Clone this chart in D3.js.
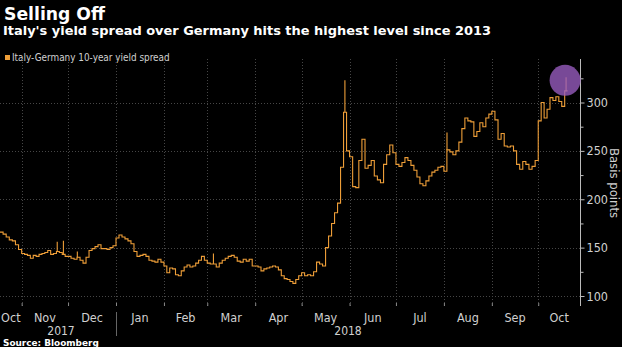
<!DOCTYPE html>
<html>
<head>
<meta charset="utf-8">
<script src="https://cdn.jsdelivr.net/npm/d3@7"></script>
<style>
  html, body { margin: 0; padding: 0; background: #000; }
  svg { display: block; }
</style>
</head>
<body>
<script>
// Italy-Germany 10-year spread, basis points, closes read per month
var periodStarts = ["2017-10-18", "2017-11-01", "2017-12-01", "2018-01-01", "2018-02-01", "2018-03-01",
    "2018-04-01", "2018-05-01", "2018-06-01", "2018-07-01", "2018-08-01", "2018-09-01", "2018-10-01"];
var lastDate = "2018-10-20";

var spreadOct17 = [166, 164, 161, 158, 157, 153, 148];
var spreadNov17 = [144, 143, 142, 139, 142, 141, 143, 144, 145, 147, 143, 144, 146, 145, 143, 141];
var spreadDec17 = [141, 139, 138, 140, 137, 134, 140, 147, 149, 151, 153, 149, 149, 148, 150, 152];
var spreadJan18 = [160, 163, 161, 159, 157, 154, 146, 141, 142, 143, 141, 137, 136, 135, 138, 135];
var spreadFeb18 = [131, 124, 129, 128, 122, 121, 126, 130, 132, 130, 131, 134, 137, 141, 137];
var spreadMar18 = [134, 133, 133, 130, 134, 137, 139, 141, 142, 140, 136, 135, 138, 136, 138, 131];
var spreadApr18 = [131, 130, 126, 128, 129, 130, 131, 130, 127, 121, 118, 117, 115, 113, 117, 121];
var spreadMay18 = [124, 121, 122, 121, 125, 135, 133, 131, 150, 162, 175, 186, 196, 233, 290, 250];
var spreadJun18 = [244, 213, 212, 240, 262, 232, 235, 240, 224, 220, 217, 236, 246, 256, 248];
var spreadJul18 = [236, 234, 238, 243, 240, 235, 230, 223, 216, 214, 219, 224, 228, 230, 233, 234];
var spreadAug18 = [229, 251, 249, 246, 250, 259, 273, 284, 281, 280, 265, 270, 279, 275, 284, 288];
var spreadSep18 = [291, 282, 262, 268, 255, 254, 255, 250, 236, 231, 239, 236, 231, 234, 240];
var spreadOct18 = [281, 300, 284, 293, 305, 302, 306, 301, 296, 312];

// intraday highs on the days with long bars
var spikeDates = ["2017-11-24", "2017-11-28", "2017-12-07", "2018-03-05", "2018-05-29", "2018-08-03", "2018-10-19"];
var spikeHighs = [156, 157, 146, 144, 323, 269, 326];

var yTicks = [100, 150, 200, 250, 300];
var yMinorTicks = [125, 175, 225, 275, 325];

var monthly = [spreadOct17, spreadNov17, spreadDec17, spreadJan18, spreadFeb18, spreadMar18,
    spreadApr18, spreadMay18, spreadJun18, spreadJul18, spreadAug18, spreadSep18, spreadOct18];

var width = 622, height = 347;
var plot_top = 59, plot_bottom = 306, plot_right = 580;
var line_color = "#ee9e38";
var label_color = "#d0d0d0";
var font = "'DejaVu Sans', 'Liberation Sans', sans-serif";
var narrow_font = "'DejaVu Sans Condensed', 'DejaVu Sans', sans-serif";

var parse = d3.utcParse("%Y-%m-%d");

var svg = d3.select("body").append("svg")
    .attr("width", width)
    .attr("height", height)
    .style("background", "#000");

// shrink or grow a text's font size until it is the given width
function fit_width(text_sel, target) {
    var size = parseFloat(text_sel.style("font-size"));
    var w = text_sel.node().getComputedTextLength();
    if (w > 0) text_sel.style("font-size", (size * target / w).toFixed(2) + "px");
    return text_sel;
}

var x = d3.scaleUtc()
    .domain([parse("2017-10-18"), parse("2018-10-28")])
    .range([0, plot_right]);

var y = d3.scaleLinear()
    .domain([100, 300])
    .range([296, 102.5]);

// spread each month's closes evenly over that month
var points = [];
periodStarts.forEach(function (s, i) {
    var t0 = parse(s);
    var t1 = parse(i + 1 < periodStarts.length ? periodStarts[i + 1] : lastDate);
    var vals = monthly[i];
    vals.forEach(function (v, j) {
        points.push({ date: new Date(+t0 + j * (t1 - t0) / vals.length), value: v });
    });
});
points.push({ date: parse(lastDate), value: points[points.length - 1].value });

// Titles
fit_width(svg.append("text")
    .attr("x", 4).attr("y", 20)
    .style("font-family", font).style("font-weight", "bold").style("font-size", "20px")
    .style("fill", "#fff")
    .text("Selling Off"), 101);

fit_width(svg.append("text")
    .attr("x", 3).attr("y", 35)
    .style("font-family", font).style("font-weight", "bold").style("font-size", "13px")
    .style("fill", "#fff")
    .text("Italy's yield spread over Germany hits the highest level since 2013"), 488);

// Legend
svg.append("rect")
    .attr("x", 5).attr("y", 55).attr("width", 5).attr("height", 5)
    .style("fill", line_color);

fit_width(svg.append("text")
    .attr("x", 12).attr("y", 60.5)
    .style("font-family", narrow_font).style("font-size", "9px")
    .style("fill", label_color)
    .text("Italy-Germany 10-year yield spread"), 158);

// Gridlines
var grid = svg.append("g");
var month_starts = d3.utcMonth.range(parse("2017-10-19"), parse("2018-10-28"));

grid.selectAll(".hgrid")
    .data(yTicks)
    .enter().append("line")
    .attr("x1", 0).attr("x2", plot_right)
    .attr("y1", function (d) { return Math.round(y(d)) + 0.5; })
    .attr("y2", function (d) { return Math.round(y(d)) + 0.5; })
    .style("stroke", "#464646").style("stroke-dasharray", "1,2");

grid.selectAll(".vgrid")
    .data(month_starts)
    .enter().append("line")
    .attr("x1", function (d) { return Math.round(x(d)) + 0.5; })
    .attr("x2", function (d) { return Math.round(x(d)) + 0.5; })
    .attr("y1", plot_top).attr("y2", plot_bottom)
    .style("stroke", "#464646").style("stroke-dasharray", "1,2");

// Y axis on the right
var y_axis = svg.append("g")
    .attr("transform", "translate(" + (plot_right + 0.5) + ",0)")
    .call(d3.axisRight(y).tickValues(yTicks).tickSize(4).tickPadding(2));

svg.append("g")
    .attr("transform", "translate(" + (plot_right + 0.5) + ",0)")
    .call(d3.axisRight(y).tickValues(yMinorTicks).tickSize(3).tickFormat(""))
    .call(function (g) { g.select(".domain").remove(); });

y_axis.select(".domain").remove();
y_axis.append("line")
    .attr("x1", 0).attr("x2", 0)
    .attr("y1", plot_top).attr("y2", plot_bottom)
    .style("stroke", "#bbb");

svg.selectAll(".tick line").style("stroke", "#bbb");
y_axis.selectAll(".tick text")
    .style("font-family", narrow_font).style("font-size", "12.5px")
    .style("fill", label_color);

svg.append("text")
    .attr("transform", "translate(610,183) rotate(90)")
    .attr("text-anchor", "middle")
    .style("font-family", narrow_font).style("font-size", "13px")
    .style("fill", label_color)
    .text("Basis points");

// X axis ticks at month boundaries
svg.append("g")
    .attr("transform", "translate(0," + plot_bottom + ")")
    .call(d3.axisBottom(x).tickValues(month_starts).tickSize(3).tickFormat(""))
    .call(function (g) {
        g.select(".domain").remove();
        g.selectAll(".tick line").style("stroke", "#888").attr("transform", "translate(0,-3)");
    });

// month labels centred inside each visible month
var domain = x.domain();
var month_spans = d3.utcMonth.range(d3.utcMonth.floor(domain[0]), domain[1]).map(function (m) {
    var a = m < domain[0] ? domain[0] : m;
    var b = d3.utcMonth.offset(m, 1);
    if (b > domain[1]) b = domain[1];
    return { label: d3.utcFormat("%b")(m), cx: (x(a) + x(b)) / 2 };
});

svg.selectAll(".month-label")
    .data(month_spans)
    .enter().append("text")
    .attr("x", function (d) { return d.cx; })
    .attr("y", 322)
    .attr("text-anchor", "middle")
    .style("font-family", narrow_font).style("font-size", "12.5px")
    .style("fill", label_color)
    .text(function (d) { return d.label; });

var year_spans = [
    { label: "2017", a: domain[0], b: parse("2018-01-01") },
    { label: "2018", a: parse("2018-01-01"), b: domain[1] }
];

svg.selectAll(".year-label")
    .data(year_spans)
    .enter().append("text")
    .attr("x", function (d) { return (x(d.a) + x(d.b)) / 2 + (d.label == "2017" ? 3 : 0); })
    .attr("y", 334.5)
    .attr("text-anchor", "middle")
    .style("font-family", narrow_font).style("font-size", "12px")
    .style("fill", label_color)
    .text(function (d) { return d.label; });

svg.append("line")
    .attr("x1", Math.round(x(parse("2018-01-01"))) + 0.5)
    .attr("x2", Math.round(x(parse("2018-01-01"))) + 0.5)
    .attr("y1", 312).attr("y2", 336)
    .style("stroke", "#666");

// Spread line
var line_gen = d3.line()
    .curve(d3.curveStepAfter)
    .x(function (d) { return x(d.date); })
    .y(function (d) { return y(d.value); });

svg.append("path")
    .datum(points)
    .attr("d", line_gen)
    .style("fill", "none")
    .style("stroke", line_color)
    .style("stroke-width", 1.1);

// long intraday bars
var bisect = d3.bisector(function (d) { return d.date; }).right;
var spikes = spikeDates.map(function (s, i) {
    var dt = parse(s);
    var idx = Math.max(0, bisect(points, dt) - 1);
    return { date: dt, low: points[idx].value, high: spikeHighs[i] };
});

svg.selectAll(".spike")
    .data(spikes)
    .enter().append("line")
    .attr("x1", function (d) { return x(d.date); })
    .attr("x2", function (d) { return x(d.date); })
    .attr("y1", function (d) { return y(d.low); })
    .attr("y2", function (d) { return y(d.high); })
    .style("stroke", line_color)
    .style("stroke-width", 1.1);

// highlight on the latest reading
var last = spikes[spikes.length - 1];
svg.append("circle")
    .attr("cx", x(last.date) - 1)
    .attr("cy", y(last.high) + 3)
    .attr("r", 15.5)
    .style("fill", "#9a5ec2")
    .style("fill-opacity", 0.78);

// Source
fit_width(svg.append("text")
    .attr("x", 3).attr("y", 346)
    .style("font-family", font).style("font-weight", "bold").style("font-size", "9px")
    .style("fill", "#fff")
    .text("Source: Bloomberg"), 96);
</script>
</body>
</html>
